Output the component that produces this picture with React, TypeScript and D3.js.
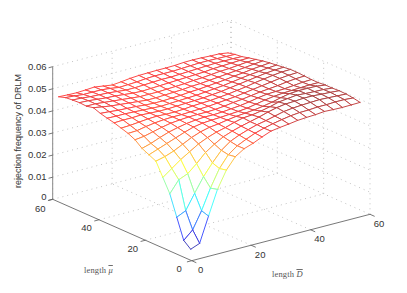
import React, { useEffect, useRef } from 'react';
import * as d3 from 'd3';

const lengthD = [2, 5, 8, 11, 14, 17, 20, 23, 26, 29, 32, 35, 38, 41, 44, 47, 50, 53, 56, 59];
const lengthMu = [3, 6, 9, 12, 15, 18, 21, 24, 27, 30, 33, 36, 39, 42, 45, 48, 51, 54, 57, 60];

const zMu3 = [.0031, .0047, .0160, .0270, .0347, .0397, .0423, .0437, .0455, .0471, .0477, .0482, .0488, .0491, .0493, .0497, .0495, .0494, .0495, .0496];
const zMu6 = [.0057, .0094, .0170, .0262, .0340, .0392, .0422, .0441, .0458, .0470, .0480, .0488, .0495, .0499, .0500, .0503, .0503, .0505, .0505, .0502];
const zMu9 = [.0148, .0167, .0235, .0300, .0352, .0398, .0428, .0446, .0460, .0472, .0480, .0490, .0500, .0505, .0508, .0510, .0512, .0510, .0508, .0506];
const zMu12 = [.0240, .0293, .0310, .0345, .0385, .0412, .0435, .0450, .0462, .0472, .0482, .0494, .0504, .0510, .0512, .0515, .0515, .0512, .0510, .0507];
const zMu15 = [.0300, .0330, .0360, .0385, .0410, .0428, .0442, .0452, .0465, .0475, .0478, .0485, .0494, .0505, .0510, .0515, .0512, .0510, .0509, .0505];
const zMu18 = [.0360, .0370, .0385, .0405, .0425, .0440, .0450, .0455, .0462, .0468, .0472, .0476, .0482, .0490, .0500, .0508, .0511, .0511, .0510, .0505];
const zMu21 = [.0375, .0390, .0405, .0420, .0435, .0448, .0455, .0458, .0460, .0463, .0466, .0470, .0478, .0486, .0492, .0496, .0498, .0500, .0502, .0502];
const zMu24 = [.0390, .0402, .0418, .0432, .0442, .0450, .0455, .0458, .0458, .0460, .0464, .0468, .0474, .0482, .0488, .0490, .0492, .0496, .0500, .0502];
const zMu27 = [.0415, .0420, .0430, .0440, .0448, .0452, .0455, .0456, .0456, .0458, .0462, .0468, .0472, .0478, .0484, .0488, .0492, .0498, .0502, .0504];
const zMu30 = [.0430, .0432, .0440, .0446, .0450, .0452, .0452, .0454, .0456, .0458, .0462, .0466, .0470, .0476, .0482, .0488, .0494, .0500, .0504, .0506];
const zMu33 = [.0440, .0442, .0446, .0450, .0452, .0450, .0450, .0452, .0456, .0458, .0460, .0464, .0468, .0474, .0480, .0488, .0494, .0500, .0505, .0506];
const zMu36 = [.0450, .0452, .0452, .0454, .0452, .0450, .0450, .0452, .0454, .0456, .0458, .0462, .0466, .0472, .0478, .0484, .0490, .0496, .0500, .0502];
const zMu39 = [.0457, .0456, .0456, .0454, .0452, .0450, .0448, .0450, .0452, .0454, .0456, .0460, .0464, .0468, .0474, .0480, .0486, .0490, .0495, .0498];
const zMu42 = [.0465, .0462, .0458, .0456, .0454, .0450, .0448, .0448, .0450, .0452, .0456, .0458, .0462, .0466, .0470, .0476, .0480, .0486, .0490, .0494];
const zMu45 = [.0477, .0470, .0464, .0460, .0456, .0452, .0448, .0448, .0450, .0452, .0454, .0458, .0460, .0464, .0468, .0472, .0476, .0480, .0485, .0489];
const zMu48 = [.0470, .0470, .0466, .0462, .0458, .0454, .0450, .0450, .0450, .0452, .0454, .0456, .0460, .0462, .0466, .0470, .0472, .0476, .0480, .0482];
const zMu51 = [.0472, .0470, .0466, .0462, .0460, .0456, .0452, .0450, .0452, .0454, .0456, .0458, .0460, .0462, .0464, .0468, .0470, .0472, .0474, .0475];
const zMu54 = [.0470, .0468, .0464, .0462, .0460, .0456, .0452, .0452, .0454, .0456, .0458, .0458, .0460, .0462, .0464, .0466, .0468, .0468, .0468, .0467];
const zMu57 = [.0467, .0464, .0460, .0460, .0460, .0456, .0450, .0452, .0454, .0458, .0460, .0460, .0460, .0462, .0464, .0466, .0466, .0465, .0464, .0463];
const zMu60 = [.0457, .0455, .0454, .0456, .0459, .0453, .0447, .0451, .0456, .0459, .0460, .0461, .0461, .0462, .0465, .0466, .0465, .0463, .0462, .0456];

const rejection = [zMu3, zMu6, zMu9, zMu12, zMu15, zMu18, zMu21, zMu24, zMu27, zMu30, zMu33, zMu36, zMu39, zMu42, zMu45, zMu48, zMu51, zMu54, zMu57, zMu60];

const floorTicks = [0, 20, 40, 60];
const zTicks = [0, 0.01, 0.02, 0.03, 0.04, 0.05, 0.06];

const App = () => {
  const svgRef = useRef<SVGSVGElement>(null);

  useEffect(() => {
    const svg = d3.select(svgRef.current);
    svg.selectAll('*').remove();

    // Oblique projection
    const dX = d3.scaleLinear().domain([0, 60]).range([0, 178.3]);
    const dY = d3.scaleLinear().domain([0, 60]).range([0, -46.4]);
    const muX = d3.scaleLinear().domain([0, 60]).range([0, -139]);
    const muY = d3.scaleLinear().domain([0, 60]).range([0, -61.4]);
    const zY = d3.scaleLinear().domain([0, 0.06]).range([0, -132.6]);
    const px = (d: number, m: number) => 191.7 + dX(d) + muX(m);
    const py = (d: number, m: number, z: number) => 260.7 + dY(d) + muY(m) + zY(z);

    const line3 = (a: number[], b: number[], stroke: string, dash?: string, width = 0.8) => {
      svg
        .append('line')
        .attr('x1', px(a[0], a[1]))
        .attr('y1', py(a[0], a[1], a[2]))
        .attr('x2', px(b[0], b[1]))
        .attr('y2', py(b[0], b[1], b[2]))
        .attr('stroke', stroke)
        .attr('stroke-width', width)
        .attr('stroke-dasharray', dash ?? null);
    };

    // Grid on the two back walls and the floor
    const gridColor = '#b4b4b4';
    const dots = '1 4';
    zTicks.forEach((z) => {
      line3([0, 60, z], [60, 60, z], gridColor, dots);
      line3([60, 60, z], [60, 0, z], gridColor, dots);
    });
    floorTicks.forEach((t) => {
      line3([t, 60, 0], [t, 60, 0.06], gridColor, dots);
      line3([60, t, 0], [60, t, 0.06], gridColor, dots);
      if (t > 0 && t < 60) {
        line3([t, 0, 0], [t, 60, 0], gridColor, dots);
        line3([0, t, 0], [60, t, 0], gridColor, dots);
      }
    });

    // Axis lines and ticks
    const axisColor = '#555';
    line3([0, 60, 0], [0, 60, 0.06], '#888', undefined, 1);
    line3([0, 0, 0], [0, 60, 0], axisColor);
    line3([0, 0, 0], [60, 0, 0], axisColor);
    zTicks.forEach((z) => line3([0, 60, z], [-1.4, 60, z], axisColor));
    floorTicks.forEach((t) => {
      line3([0, t, 0], [-1.6, t, 0], axisColor);
      line3([t, 0, 0], [t, -2, 0], axisColor);
    });

    // Mesh with white faces, painted from the back to the front
    const zMin = d3.min(rejection.flat()) as number;
    const unit = d3.scaleLinear().domain([zMin, 0.0518]).range([0, 1]);
    const jet = d3
      .scaleLinear<string>()
      .domain([0, 1 / 8, 3 / 8, 5 / 8, 7 / 8, 1])
      .range(['#00008f', '#0000ff', '#00ffff', '#ffff00', '#ff0000', '#800000'])
      .clamp(true);
    const edgeColor = (z: number) => d3.interpolateRgb(jet(unit(z)), '#fff')(0.28);

    const mesh = svg.append('g').attr('stroke-width', 1).attr('stroke-linecap', 'round');
    for (let i = lengthMu.length - 2; i >= 0; i--) {
      for (let j = lengthD.length - 2; j >= 0; j--) {
        const corners = [
          [j, i],
          [j + 1, i],
          [j + 1, i + 1],
          [j, i + 1],
        ].map(([c, r]) => [px(lengthD[c], lengthMu[r]), py(lengthD[c], lengthMu[r], rejection[r][c]), rejection[r][c]]);
        mesh
          .append('polygon')
          .attr('points', corners.map((p) => `${p[0]},${p[1]}`).join(' '))
          .attr('fill', '#fff')
          .attr('stroke', 'none');
        corners.forEach((p, k) => {
          const q = corners[(k + 1) % 4];
          mesh
            .append('line')
            .attr('x1', p[0])
            .attr('y1', p[1])
            .attr('x2', q[0])
            .attr('y2', q[1])
            .attr('stroke', edgeColor((p[2] + q[2]) / 2));
        });
      }
    }

    // Tick labels
    const tickFont = '"Liberation Sans", Arial, sans-serif';
    const label = (x: number, y: number, text: string, anchor = 'middle') =>
      svg
        .append('text')
        .attr('x', x)
        .attr('y', y)
        .attr('text-anchor', anchor)
        .attr('dominant-baseline', 'central')
        .attr('font-family', tickFont)
        .attr('font-size', 9.5)
        .attr('fill', '#333')
        .text(text);

    zTicks.forEach((z) => label(46.5, py(0, 60, z) - (z === 0 ? 2.5 : 0.5), z === 0 ? '0' : d3.format('.2f')(z), 'end'));
    floorTicks.forEach((t) => {
      label(px(0, t) - 12.5, py(0, t, 0) + (t === 60 ? 9.5 : 8), String(t));
      label(px(t, 0) + 9, py(t, 0, 0) + 9, String(t));
    });

    svg
      .append('text')
      .attr('transform', 'translate(18,131) rotate(-90)')
      .attr('text-anchor', 'middle')
      .attr('dominant-baseline', 'central')
      .attr('font-family', tickFont)
      .attr('font-size', 9)
      .attr('fill', '#333')
      .text('rejection frequency of DRLM');

    // Overbar drawn as a decoration so it sits on the symbol
    const serifLabel = (x: number, y: number, symbol: string) => {
      const t = svg
        .append('text')
        .attr('x', x)
        .attr('y', y)
        .attr('font-family', '"Liberation Serif", "DejaVu Serif", serif')
        .attr('font-size', 8.5)
        .attr('letter-spacing', 0.15)
        .attr('fill', '#555')
        .text('length ');
      t.append('tspan')
        .attr('font-style', 'italic')
        .style('text-decoration', 'overline')
        .text(symbol);
    };
    serifLabel(84, 273, 'μ');
    serifLabel(272, 277, 'D');
  }, []);

  return <svg ref={svgRef} width={407} height={293} style={{ position: 'absolute', left: 0, top: 0, background: '#fff' }} />;
};

export default App;
